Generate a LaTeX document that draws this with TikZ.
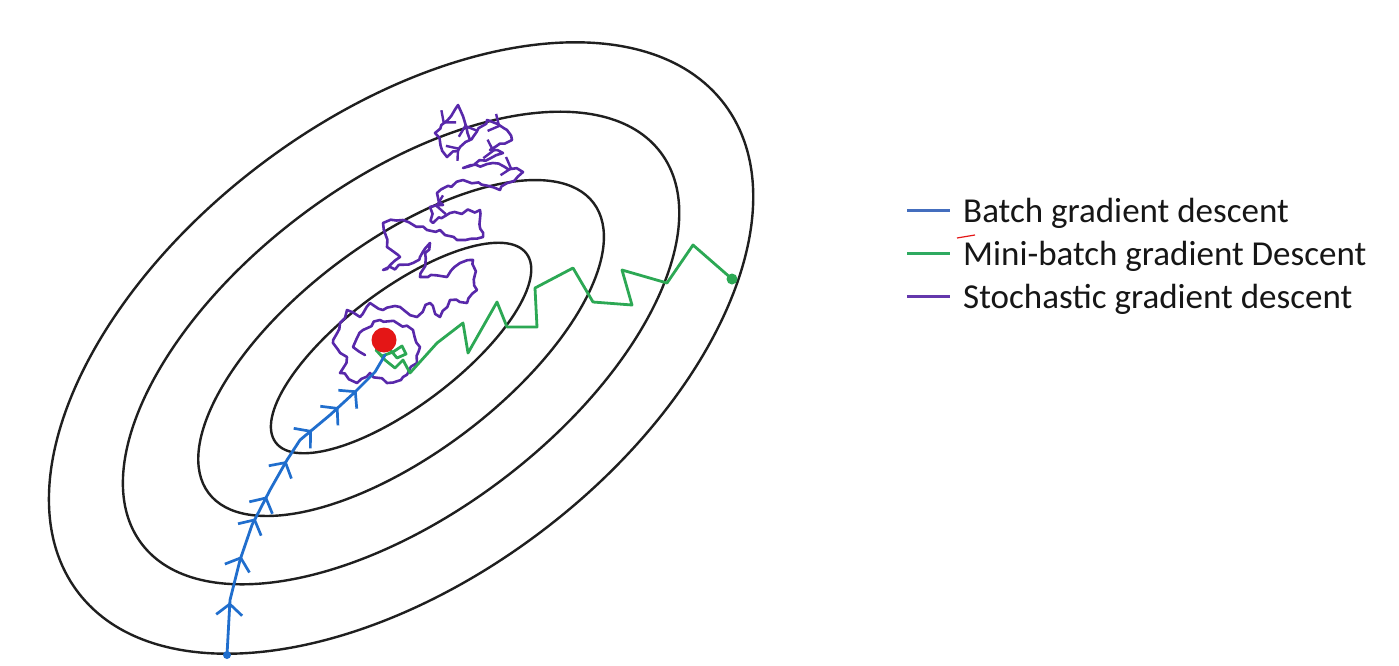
\documentclass[tikz,border=0pt]{standalone}
\usepackage{fontspec}
\setmainfont{Carlito}
\usetikzlibrary{arrows.meta,decorations.markings,decorations.pathmorphing}
\definecolor{bgdblue}{RGB}{32,110,205}
\definecolor{mbgreen}{RGB}{44,168,84}
\definecolor{sgdpurple}{RGB}{88,40,170}
\definecolor{mindot}{RGB}{228,22,22}
\definecolor{legblue}{RGB}{68,110,190}
\definecolor{leggreen}{RGB}{46,170,96}
\definecolor{legpurple}{RGB}{100,56,172}
\definecolor{txt}{RGB}{22,22,22}
\tikzset{
  mybarb/.tip={Straight Barb[length=11pt,width=26pt]},
  mypbarb/.tip={Straight Barb[length=8pt,width=19pt]}}
\pgfmathsetseed{11}
\begin{document}
\begin{tikzpicture}[x=1pt,y=-1pt,
  contour/.style={draw=black!88, line width=2.4pt},
  bpath/.style={draw=bgdblue, line width=2.8pt, line join=round, line cap=round},
  gpath/.style={draw=mbgreen, line width=2.8pt, line join=round, line cap=round},
  ppath/.style={draw=sgdpurple, line width=2.6pt, line join=round, line cap=round},
  legline/.style={line width=3pt},
  legtext/.style={anchor=west, text=txt, font=\fontsize{35}{40}\selectfont, inner sep=0pt}]
\useasboundingbox (0,0) rectangle (1399,665);
\fill[white] (0,0) rectangle (1399,665);
% contours
\coordinate (c) at (401,348);
\foreach \a/\b in {405/231,325/166,241/106,157/58}
  \draw[contour, rotate around={37:(c)}] (c) ellipse [x radius=\a pt, y radius=\b pt];
% stochastic gradient descent
\def\sgdpath{(470,140) -- (458,105) -- (435,133) -- (447,157) -- (460,147) -- (473,137)
  -- (487,120) -- (507,130) -- (512,140) -- (490,150) -- (503,153) -- (463,168)
  -- (493,163) -- (523,172) -- (500,190) -- (463,180) -- (437,193) -- (443,205)
  -- (430,207) -- (433,223) -- (450,213) -- (480,210) -- (483,237) -- (457,240)
  -- (440,230) -- (427,230) -- (403,220) -- (383,223) -- (387,247) -- (400,257)
  -- (383,270) -- (413,263) -- (420,257) -- (430,243) -- (420,277) -- (447,277)
  -- (460,263) -- (473,260) -- (477,290) -- (467,303) -- (450,300) -- (440,317)
  -- (430,303) -- (417,317) -- (400,307) -- (383,310) -- (370,303) -- (360,317)
  -- (347,310) -- (340,323) -- (333,343) -- (347,357) -- (340,373) -- (357,383)
  -- (370,373) -- (387,383) -- (403,377) -- (417,363) -- (420,347) -- (413,330)
  -- (397,323) -- (380,320) -- (363,330) -- (353,347) -- (365,355)}
\draw[ppath, decorate, decoration={random steps, segment length=6pt, amplitude=2.2pt}] \sgdpath;
\path[line width=2.4pt, postaction={decorate}, decoration={markings,
   mark=at position 0.012 with {\arrow[sgdpurple, line width=2.4pt]{mypbarb}},
   mark=at position 0.045 with {\arrow[sgdpurple, line width=2.4pt]{mypbarb}},
   mark=at position 0.085 with {\arrow[sgdpurple, line width=2.4pt]{mypbarb}},
   mark=at position 0.125 with {\arrow[sgdpurple, line width=2.4pt]{mypbarb}},
   mark=at position 0.16 with {\arrow[sgdpurple, line width=2.4pt]{mypbarb}},
   mark=at position 0.235 with {\arrow[sgdpurple, line width=2.4pt]{mypbarb}},
   mark=at position 0.33 with {\arrow[sgdpurple, line width=2.4pt]{mypbarb}}}] \sgdpath;
% mini-batch gradient descent
\coordinate (gstart) at (732,279);
\draw[gpath] (gstart) -- (693,245) -- (667,283) -- (622,270) -- (632,305) -- (593,302)
  -- (573,268) -- (535,288) -- (537,327) -- (507,327) -- (497,302) -- (468,353)
  -- (463,323) -- (437,343) -- (410,373) -- (403,360) -- (395,368) -- (385,360)
  -- (376,350) -- (382,356) -- (393,352) -- (402,346) -- (406,354) -- (397,358)
  -- (388,347);
\fill[mbgreen] (gstart) circle (5.5);
% batch gradient descent
\coordinate (bstart) at (227,655);
\draw[bpath, postaction={decorate}, decoration={markings,
   mark=at position 0.15 with {\arrow[line width=2.7pt]{mybarb}},
   mark=at position 0.285 with {\arrow[line width=2.7pt]{mybarb}},
   mark=at position 0.40 with {\arrow[line width=2.7pt]{mybarb}},
   mark=at position 0.47 with {\arrow[line width=2.7pt]{mybarb}},
   mark=at position 0.585 with {\arrow[line width=2.7pt]{mybarb}},
   mark=at position 0.70 with {\arrow[line width=2.7pt]{mybarb}},
   mark=at position 0.80 with {\arrow[line width=2.7pt]{mybarb}},
   mark=at position 0.87 with {\arrow[line width=2.7pt]{mybarb}}}]
  (bstart) -- (230,600) -- (240,560) -- (252,525) -- (270,490) -- (287,460)
  -- (300,440) -- (330,415) -- (355,392) -- (375,372) -- (385,355);
\fill[bgdblue] (bstart) circle (4);
% minimum
\node[circle, fill=mindot, minimum size=25pt, inner sep=0pt] (min) at (384,340) {};
% legend
\coordinate (l1a) at (907,210); \coordinate (l1b) at (950,210);
\coordinate (l2a) at (907,253); \coordinate (l2b) at (950,253);
\coordinate (l3a) at (907,296); \coordinate (l3b) at (950,296);
\draw[legline, legblue] (l1a) -- (l1b);
\draw[legline, leggreen] (l2a) -- (l2b);
\draw[legline, legpurple] (l3a) -- (l3b);
\node[legtext] (t1) at (963,213) {Batch gradient descent};
\node[legtext] (t2) at (963,256) {Mini-batch gradient Descent};
\node[legtext] (t3) at (963,299) {Stochastic gradient descent};
\draw[mindot, line width=1.2pt] (957,238) -- (975,235);
\end{tikzpicture}
\end{document}
